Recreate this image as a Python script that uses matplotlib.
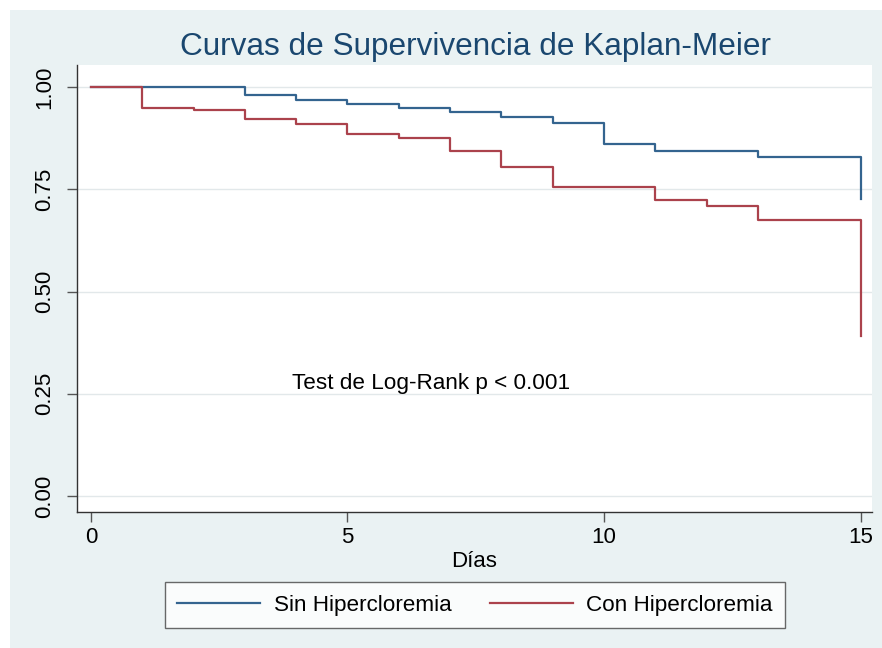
import matplotlib
matplotlib.use("Agg")
import matplotlib.pyplot as plt
from matplotlib.patches import Rectangle

plt.rcParams['font.family'] = ['Liberation Sans', 'DejaVu Sans']

# Kaplan-Meier
dias_sin = [0, 3, 4, 5, 6, 7, 8, 9, 10, 11, 13, 15]
surv_sin = [1.0, 0.981, 0.968, 0.959, 0.948, 0.940, 0.927, 0.913, 0.862, 0.843, 0.829, 0.726]

dias_con = [0, 1, 2, 3, 4, 5, 6, 7, 8, 9, 11, 12, 13, 15]
surv_con = [1.0, 0.949, 0.943, 0.923, 0.910, 0.885, 0.875, 0.844, 0.805, 0.756, 0.725, 0.710, 0.675, 0.391]

xticks = [0, 5, 10, 15]
yticks = [0.0, 0.25, 0.5, 0.75, 1.0]
ytick_labels = ["0.00", "0.25", "0.50", "0.75", "1.00"]

azul = "#34648f"
rojo = "#ab424c"
fondo = "#eaf2f3"

fig = plt.figure(figsize=(8.82, 6.48), dpi=100)
fig.patch.set_facecolor("white")
fig.patches.append(Rectangle((10 / 882, 0), 1, 1 - 10 / 648, transform=fig.transFigure,
                             facecolor=fondo, edgecolor="none", zorder=-10))

ax = fig.add_axes([77 / 882, 1 - 512 / 648, (872 - 77) / 882, (512 - 65) / 648])
ax.set_facecolor("white")

ax.step(dias_sin, surv_sin, where="post", color=azul, lw=1.6, label="Sin Hipercloremia")
ax.step(dias_con, surv_con, where="post", color=rojo, lw=1.6, label="Con Hipercloremia")

ax.set_xlim(-0.27, 15.22)
ax.set_ylim(-0.039, 1.054)
ax.set_xticks(xticks)
ax.set_yticks(yticks)
ax.set_yticklabels(ytick_labels, rotation=90, va="center")
ax.tick_params(axis="both", direction="out", length=7, width=1, color="#555555",
               labelsize=16)
ax.tick_params(axis="x", pad=4)
ax.tick_params(axis="y", pad=9)
ax.grid(axis="y", color="#e2e8ea", lw=1)
ax.set_axisbelow(True)
for s in ["top", "right"]:
    ax.spines[s].set_visible(False)
for s in ["left", "bottom"]:
    ax.spines[s].set_color("#333333")
    ax.spines[s].set_linewidth(1)

ax.set_xlabel("Días", fontsize=16, labelpad=2)
ax.text(3.92, 0.276, "Test de Log-Rank p < 0.001", fontsize=16.2, va="center", ha="left")

fig.text(475 / 882, 1 - 47 / 648, "Curvas de Supervivencia de Kaplan-Meier",
         ha="center", va="center", fontsize=22.7, color="#1a476f")

leg = fig.legend(loc="center", bbox_to_anchor=(475 / 882, 1 - 605 / 648), ncol=2,
                 fontsize=16.2, frameon=True, fancybox=False, handlelength=3.7,
                 handletextpad=0.6, columnspacing=1.7, borderpad=0.55)
leg.get_frame().set_edgecolor("#444444")
leg.get_frame().set_linewidth(1)

fig.savefig("out.png", dpi=100, facecolor=fig.get_facecolor())
